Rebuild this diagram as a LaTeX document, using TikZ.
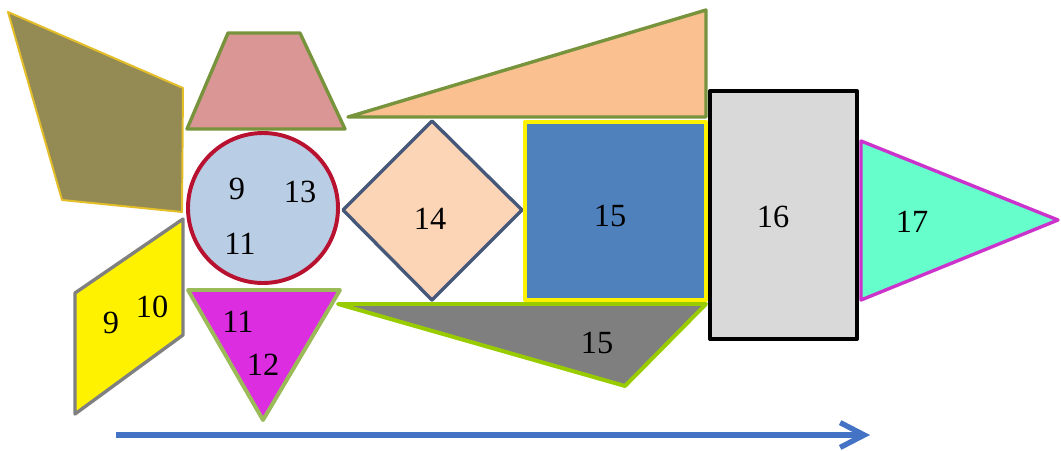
\documentclass[tikz,border=0pt]{standalone}
\usepackage{fontspec}
\setmainfont{Liberation Serif}
\usetikzlibrary{arrows.meta}

\definecolor{olivefill}{RGB}{148,138,84}
\definecolor{goldline}{RGB}{228,190,40}
\definecolor{rosefill}{RGB}{217,150,148}
\definecolor{greenline}{RGB}{119,147,60}
\definecolor{ballfill}{RGB}{185,205,229}
\definecolor{ballline}{RGB}{184,18,48}
\definecolor{paraline}{RGB}{128,128,128}
\definecolor{magfill}{RGB}{221,45,224}
\definecolor{lightgreen}{RGB}{155,187,89}
\definecolor{peachfill}{RGB}{250,192,144}
\definecolor{diamfill}{RGB}{251,213,181}
\definecolor{diamline}{RGB}{70,88,122}
\definecolor{boxblue}{RGB}{79,129,189}
\definecolor{limeline}{RGB}{153,204,0}
\definecolor{greyfill}{RGB}{127,127,127}
\definecolor{lightgrey}{RGB}{217,217,217}
\definecolor{tealfill}{RGB}{102,255,204}
\definecolor{tipline}{RGB}{204,51,204}
\definecolor{arrowblue}{RGB}{68,114,196}

\begin{document}
\begin{tikzpicture}[x=0.025cm, y=-0.025cm, piece/.style={line width=2.4pt, line join=round}, num/.style={font=\fontsize{23}{27}\selectfont, inner sep=0pt}]
            \useasboundingbox (0,0) rectangle (1061,450);

            \filldraw[piece, fill=olivefill, draw=goldline, line width=1.4pt] (8,12) -- (183,88) -- (182,212) -- (62,200) -- cycle;
            \filldraw[piece, fill=rosefill, draw=greenline] (228,33) -- (300,33) -- (345,129) -- (187,129) -- cycle;
            \filldraw[piece, fill=ballfill, draw=ballline, line width=2.8pt] (263,208) circle (75);
            \filldraw[piece, fill=yellow, draw=paraline] (75,293) -- (183,219) -- (183,335) -- (75,414) -- cycle;
            \filldraw[piece, fill=magfill, draw=lightgreen, line width=2.8pt] (188,290) -- (340,290) -- (263,420) -- cycle;

            \filldraw[piece, fill=peachfill, draw=greenline] (348,117) -- (706,10) -- (706,117) -- cycle;
            \filldraw[piece, fill=diamfill, draw=diamline] (432,121) -- (522,210) -- (432,300) -- (343,210) -- cycle;
            \filldraw[piece, fill=greyfill, draw=limeline, line width=2.8pt] (338,304) -- (706,304) -- (625,386) -- cycle;
            \filldraw[piece, fill=boxblue, draw=yellow, line width=2.8pt] (525,122) rectangle (706,300);
            \filldraw[piece, fill=lightgrey, draw=black, line width=2.8pt] (710,91) rectangle (857,339);
            \filldraw[piece, fill=tealfill, draw=tipline] (861,141) -- (1058,220) -- (861,300) -- cycle;

            % numbers
            \node[num] (b9) at (237,189) {9};
            \node[num] (b13) at (300,192) {13};
            \node[num] (b11) at (240,244) {11};
            \node[num] (p9) at (111,323) {9};
            \node[num] (p10) at (152,307) {10};
            \node[num] (t11) at (238,322) {11};
            \node[num] (t12) at (263,365) {12};
            \node[num] (d14) at (430,219) {14};
            \node[num] (s15) at (610,216) {15};
            \node[num] (g15) at (597,343) {15};
            \node[num] (r16) at (773,217) {16};
            \node[num] (k17) at (912,222) {17};

            \coordinate (start) at (116,435);
            \coordinate (stop) at (870,435);
            \draw[-{Straight Barb[length=0.6cm, width=0.62cm]}, line width=3.8pt, arrowblue] (start) -- (stop);
        \end{tikzpicture}
\end{document}
